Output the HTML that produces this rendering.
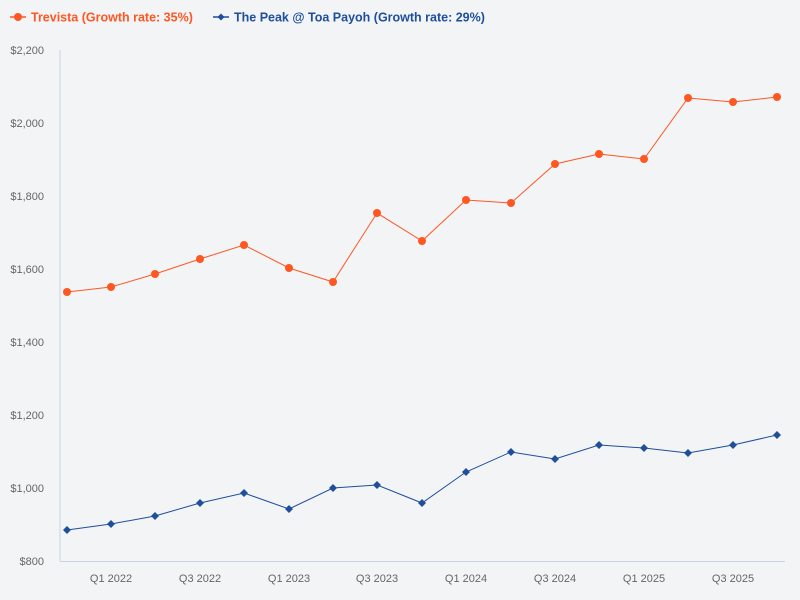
<!DOCTYPE html>
<html><head><style>body{margin:0;background:#f2f4f6;}svg{display:block;font-family:"Liberation Sans",sans-serif;}</style></head><body>
<svg width="800" height="600" viewBox="0 0 800 600">
<rect width="800" height="600" fill="#f2f4f6"/>
<g font-weight="bold" font-size="12.5">
<line x1="10" y1="17" x2="26" y2="17" stroke="#ff5722" stroke-width="1.5"/><circle cx="18" cy="17" r="4" fill="#ff5722"/>
<text x="31" y="21.5" fill="#ff5722">Trevista (Growth rate: 35%)</text>
<line x1="213" y1="17" x2="229" y2="17" stroke="#1f4e9c" stroke-width="1.5"/><path d="M221 13.5L224.5 17L221 20.5L217.5 17Z" fill="#1f4e9c"/>
<text x="234" y="21.5" fill="#1f4e9c">The Peak @ Toa Payoh (Growth rate: 29%)</text>
</g>
<g font-size="11" fill="#666" text-anchor="end">
<text x="44" y="54">$2,200</text><text x="44" y="127">$2,000</text><text x="44" y="200">$1,800</text><text x="44" y="273">$1,600</text><text x="44" y="346">$1,400</text><text x="44" y="419">$1,200</text><text x="44" y="492">$1,000</text><text x="44" y="565">$800</text>
</g>
<g font-size="11" fill="#666" text-anchor="middle">
<text x="111" y="582">Q1 2022</text><text x="200" y="582">Q3 2022</text><text x="289" y="582">Q1 2023</text><text x="377" y="582">Q3 2023</text><text x="466" y="582">Q1 2024</text><text x="555" y="582">Q3 2024</text><text x="644" y="582">Q1 2025</text><text x="733" y="582">Q3 2025</text>
</g>
<line x1="60" y1="50" x2="60" y2="561" stroke="#c8d4e4"/>
<line x1="60" y1="561.5" x2="785" y2="561.5" stroke="#c8d4e4"/>
<polyline fill="none" stroke="#ff5722" stroke-width="1" points="67,292 111,287 155,274 200,259 244,245 289,268 333,282 377,213 422,241 466,200 511,203 555,164 599,154 644,159 688,98 733,102 777,97"/>
<g fill="#ff5722">
<circle cx="67" cy="292" r="4"/><circle cx="111" cy="287" r="4"/><circle cx="155" cy="274" r="4"/><circle cx="200" cy="259" r="4"/><circle cx="244" cy="245" r="4"/><circle cx="289" cy="268" r="4"/><circle cx="333" cy="282" r="4"/><circle cx="377" cy="213" r="4"/><circle cx="422" cy="241" r="4"/><circle cx="466" cy="200" r="4"/><circle cx="511" cy="203" r="4"/><circle cx="555" cy="164" r="4"/><circle cx="599" cy="154" r="4"/><circle cx="644" cy="159" r="4"/><circle cx="688" cy="98" r="4"/><circle cx="733" cy="102" r="4"/><circle cx="777" cy="97" r="4"/>
</g>
<polyline fill="none" stroke="#1f4e9c" stroke-width="1" points="67,530 111,524 155,516 200,503 244,493 289,509 333,488 377,485 422,503 466,472 511,452 555,459 599,445 644,448 688,453 733,445 777,435"/>
<g fill="#1f4e9c">
<path d="M67 526l4 4l-4 4l-4-4z"/><path d="M111 520l4 4l-4 4l-4-4z"/><path d="M155 512l4 4l-4 4l-4-4z"/><path d="M200 499l4 4l-4 4l-4-4z"/><path d="M244 489l4 4l-4 4l-4-4z"/><path d="M289 505l4 4l-4 4l-4-4z"/><path d="M333 484l4 4l-4 4l-4-4z"/><path d="M377 481l4 4l-4 4l-4-4z"/><path d="M422 499l4 4l-4 4l-4-4z"/><path d="M466 468l4 4l-4 4l-4-4z"/><path d="M511 448l4 4l-4 4l-4-4z"/><path d="M555 455l4 4l-4 4l-4-4z"/><path d="M599 441l4 4l-4 4l-4-4z"/><path d="M644 444l4 4l-4 4l-4-4z"/><path d="M688 449l4 4l-4 4l-4-4z"/><path d="M733 441l4 4l-4 4l-4-4z"/><path d="M777 431l4 4l-4 4l-4-4z"/>
</g>
</svg>
</body></html>
